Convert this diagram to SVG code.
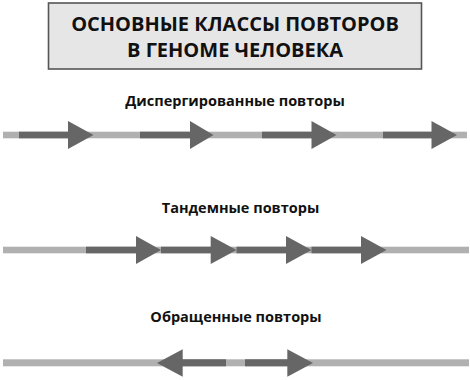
<svg xmlns="http://www.w3.org/2000/svg" width="470" height="380" viewBox="0 0 470 380">
<style>
.t{font-family:"Open Sans","DejaVu Sans",sans-serif;font-weight:bold;fill:#111;text-anchor:middle}
.lt{fill:#b0b0b0}
.dk{fill:#666666}
</style>
<rect width="470" height="380" fill="#ffffff"/>
<g id="title">
<rect x="48.5" y="3" width="373" height="66" fill="#e6e6e6" stroke="#555555" stroke-width="1.6"/>
<text class="t" x="235" y="30.5" font-size="20">ОСНОВНЫЕ КЛАССЫ ПОВТОРОВ</text>
<text class="t" x="235" y="57" font-size="20">В ГЕНОМЕ ЧЕЛОВЕКА</text>
</g>
<g id="dispersed">
<text class="t" x="235" y="105.5" font-size="14.5">Диспергированные повторы</text>
<rect class="lt" x="3" y="131.7" width="464" height="6.6"/>
<rect class="dk" x="19" y="131.7" width="50" height="6.6"/>
<polygon class="dk" points="68,121 93.5,135 68,149"/>
<rect class="dk" x="140" y="131.7" width="51" height="6.6"/>
<polygon class="dk" points="190,121 213.5,135 190,149"/>
<rect class="dk" x="262" y="131.7" width="50" height="6.6"/>
<polygon class="dk" points="311.5,121 336.5,135 311.5,149"/>
<rect class="dk" x="383" y="131.7" width="49" height="6.6"/>
<polygon class="dk" points="431.5,121 457,135 431.5,149"/>
</g>
<g id="tandem">
<text class="t" x="240.5" y="212.5" font-size="14.5">Тандемные повторы</text>
<rect class="lt" x="3" y="246.7" width="466" height="6.6"/>
<rect class="dk" x="86" y="246.7" width="51" height="6.6"/>
<polygon class="dk" points="136,236 161,250 136,264"/>
<rect class="dk" x="161" y="246.7" width="50" height="6.6"/>
<polygon class="dk" points="210.7,236 236.5,250 210.7,264"/>
<rect class="dk" x="236.5" y="246.7" width="50" height="6.6"/>
<polygon class="dk" points="286,236 311.5,250 286,264"/>
<rect class="dk" x="311.5" y="246.7" width="50" height="6.6"/>
<polygon class="dk" points="361,236 386.5,250 361,264"/>
</g>
<g id="inverted">
<text class="t" x="236" y="322" font-size="14.5">Обращенные повторы</text>
<rect class="lt" x="3" y="359.3" width="466" height="7"/>
<polygon class="dk" points="182.7,349.3 157,363 182.7,376.7"/>
<rect class="dk" x="182" y="359.3" width="44" height="7"/>
<rect class="dk" x="245" y="359.3" width="43" height="7"/>
<polygon class="dk" points="287.3,349.3 313,363 287.3,376.7"/>
</g>
</svg>
